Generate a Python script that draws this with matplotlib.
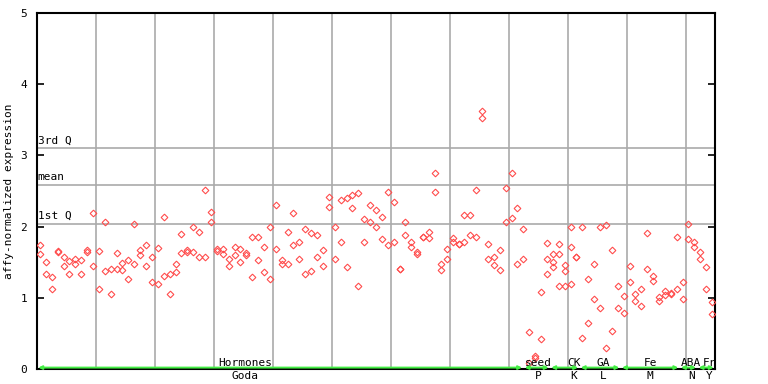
import numpy as np
import matplotlib
matplotlib.use('Agg')
import matplotlib.pyplot as plt

# expression values, two replicates per sample
rep1 = [1.74, 1.50, 1.29, 1.66, 1.57, 1.51, 1.54, 1.53, 1.67, 2.19,
        1.66, 2.06, 1.41, 1.63, 1.49, 1.53, 2.03, 1.67, 1.74, 1.57,
        1.70, 2.14, 1.34, 1.48, 1.89, 1.67, 1.99, 1.92, 2.51, 2.20,
        1.69, 1.69, 1.55, 1.72, 1.68, 1.63, 1.86, 1.85, 1.71, 2.00,
        2.30, 1.53, 1.92, 2.19, 1.78, 1.96, 1.91, 1.88, 1.67, 2.41,
        1.99, 2.38, 2.40, 2.44, 2.47, 2.10, 2.31, 2.23, 2.14, 2.48,
        2.34, 1.40, 2.07, 1.79, 1.65, 1.85, 1.93, 2.75, 1.48, 1.68,
        1.84, 1.75, 2.16, 2.16, 2.51, 3.62, 1.75, 1.58, 1.67, 2.54,
        2.75, 2.26, 1.96, 0.52, 0.18, 1.08, 1.77, 1.62, 1.75, 1.46,
        2.00, 1.58, 1.99, 1.27, 1.47, 1.99, 2.02, 1.67, 1.16, 1.02,
        1.44, 1.06, 1.13, 1.91, 1.30, 1.01, 1.10, 1.07, 1.86, 1.22,
        2.03, 1.78, 1.65, 1.43, 0.94]
rep2 = [1.61, 1.34, 1.12, 1.64, 1.44, 1.33, 1.47, 1.34, 1.64, 1.44,
        1.13, 1.37, 1.05, 1.41, 1.39, 1.26, 1.48, 1.60, 1.44, 1.22,
        1.20, 1.30, 1.05, 1.36, 1.63, 1.64, 1.64, 1.58, 1.57, 2.07,
        1.66, 1.61, 1.44, 1.60, 1.50, 1.60, 1.29, 1.53, 1.36, 1.26,
        1.68, 1.48, 1.47, 1.74, 1.54, 1.34, 1.37, 1.58, 1.44, 2.27,
        1.55, 1.79, 1.43, 2.26, 1.16, 1.79, 2.07, 1.99, 1.82, 1.74,
        1.79, 1.40, 1.88, 1.71, 1.62, 1.85, 1.84, 2.48, 1.39, 1.54,
        1.78, 1.75, 1.79, 1.88, 1.85, 3.53, 1.54, 1.46, 1.39, 2.06,
        2.12, 1.47, 1.54, 0.09, 0.15, 0.42, 1.54, 1.50, 1.62, 1.37,
        1.72, 1.58, 0.43, 0.64, 0.99, 0.85, 0.29, 0.54, 0.85, 0.78,
        1.22, 0.96, 0.88, 1.40, 1.23, 0.95, 1.04, 1.05, 1.12, 0.99,
        1.82, 1.72, 1.54, 1.13, 0.77]
# a few samples carry a third replicate
extra_idx = [86, 87, 88, 89, 90]
extra_val = [1.33, 1.43, 1.16, 1.16, 1.20]

q1_val = 2.04
mean_val = 2.58
q3_val = 3.10

top_labels = ['Hormones', 'seed', 'CK', 'GA', 'Fe', 'ABA', 'Fr']
bottom_labels = ['Goda', 'P', 'K', 'L', 'M', 'N', 'Y']
group_start = [0, 82.5, 87, 92, 99, 109, 112]
group_end = [82.5, 87, 92, 99, 109, 112, 115]
label_pos = [35.3, 85, 91, 96, 104, 111, 114]

n = len(rep1)
xs = np.arange(n) + 0.5

mono = 'DejaVu Sans Mono'
red = '#ff4c4c'
grey = '#aaaaaa'

fig = plt.figure(figsize=(7.68, 3.84), dpi=100)
ax = fig.add_axes([37/768, 1 - 369/384, 678/768, 356/384])

ax.set_xlim(0, n)
ax.set_ylim(0, 5)

# vertical grid every 10 samples
ax.set_xticks(np.arange(10, n, 10))
ax.set_xticklabels([])
ax.tick_params(axis='x', length=0)
ax.xaxis.grid(True, color=grey, linewidth=1.2)

ax.set_yticks(range(0, 6))
ax.set_yticklabels([str(v) for v in range(0, 6)], family=mono, fontsize=8)
ax.tick_params(axis='y', direction='in', length=5, width=1.2, right=True, pad=7)

for v in (q1_val, mean_val, q3_val):
    ax.axhline(v, color=grey, linewidth=1.2, zorder=1)
for v, t in ((q3_val, '3rd Q'), (mean_val, 'mean'), (q1_val, '1st Q')):
    ax.text(0.1, v + 0.04, t, family=mono, fontsize=8, ha='left', va='bottom')

mk = dict(marker='D', markersize=3.4, markerfacecolor='none',
          markeredgecolor=red, markeredgewidth=0.8, linestyle='none', zorder=3)
ax.plot(xs, rep1, **mk)
ax.plot(xs, rep2, **mk)
ax.plot(np.array(extra_idx) + 0.5, extra_val, **mk)

for s in ax.spines.values():
    s.set_linewidth(1.5)
    s.set_color('black')

# group arrows and labels
for a, b in zip(group_start, group_end):
    ax.annotate('', xy=(b, 0.02), xytext=(a, 0.02),
                arrowprops=dict(arrowstyle='<|-|>', color='#44ee44', lw=1.4,
                                shrinkA=1, shrinkB=1, mutation_scale=5),
                annotation_clip=False, zorder=4)
for x, t in zip(label_pos, top_labels):
    ax.text(x, 0.02, t, family=mono, fontsize=8, ha='center', va='bottom')
for x, t in zip(label_pos, bottom_labels):
    ax.text(x, -0.025, t, family=mono, fontsize=8, ha='center', va='top')

ax.set_ylabel('affy-normalized expression', family=mono, fontsize=8, labelpad=5)

fig.savefig('out.png', dpi=100)
